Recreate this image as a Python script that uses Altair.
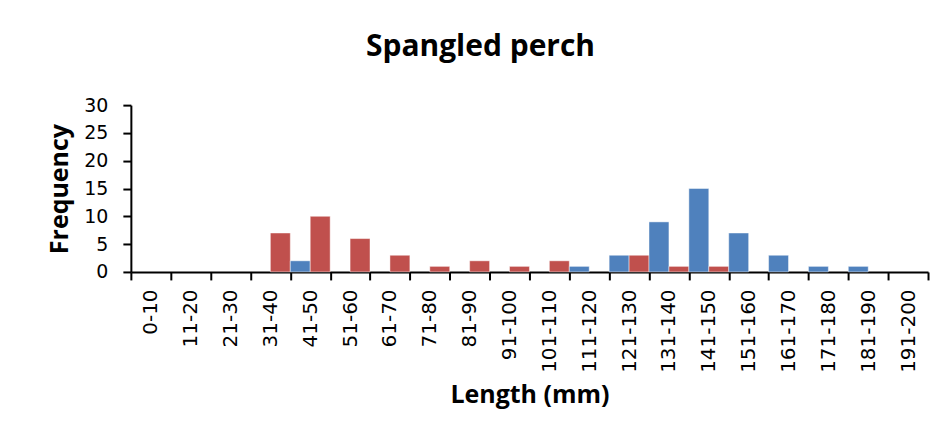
import altair as alt
import pandas as pd

categories = ["0-10", "11-20", "21-30", "31-40", "41-50", "51-60", "61-70", "71-80",
              "81-90", "91-100", "101-110", "111-120", "121-130", "131-140", "141-150",
              "151-160", "161-170", "171-180", "181-190", "191-200"]
blue_counts = [0, 0, 0, 0, 2, 0, 0, 0, 0, 0, 0, 1, 3, 9, 15, 7, 3, 1, 1, 0]
red_counts = [0, 0, 0, 7, 10, 6, 3, 1, 2, 1, 2, 0, 3, 1, 1, 0, 0, 0, 0, 0]
series_names = ["Series 1", "Series 2"]
series_colors = ["#4F81BD", "#C0504D"]
y_ticks = [0, 5, 10, 15, 20, 25, 30]

rows = []
for c, b, r in zip(categories, blue_counts, red_counts):
    rows.append({"length": c, "series": series_names[0], "count": b})
    rows.append({"length": c, "series": series_names[1], "count": r})
df = pd.DataFrame(rows)

W, H = 798, 167

chart = alt.Chart(df).transform_filter("datum.count > 0").mark_bar(
    stroke="white", strokeOpacity=0.45, strokeWidth=1
).encode(
    x=alt.X("length:N", sort=categories,
            scale=alt.Scale(domain=categories, paddingInner=0, paddingOuter=0),
            axis=alt.Axis(title="Length (mm)", labelAngle=-90, tickBand="extent",
                          labelFont="Verdana, DejaVu Sans", labelFontSize=20,
                          labelPadding=9, labelBaseline="middle", labelAlign="right",
                          labelLimit=300, titleX=W / 2, titleY=131)),
    xOffset=alt.XOffset("series:N",
                        scale=alt.Scale(domain=series_names, paddingInner=0, paddingOuter=0)),
    y=alt.Y("count:Q", scale=alt.Scale(domain=[0, 30], nice=False),
            axis=alt.Axis(title="Frequency", values=y_ticks,
                          labelFont="Verdana, DejaVu Sans", labelFontSize=19, labelPadding=15,
                          titleX=-63, titleY=H / 2, titleAngle=270)),
    color=alt.Color("series:N", scale=alt.Scale(domain=series_names, range=series_colors),
                    legend=None),
).properties(
    width=W, height=H,
    background="white",
    title=alt.TitleParams("Spangled perch", font="Open Sans", fontSize=30, fontWeight="bold",
                          color="black", anchor="middle", frame="group", dx=-49,
                          baseline="alphabetic", offset=10),
    autosize=alt.AutoSizeParams(type="none"),
    padding={"left": 123, "top": 97, "right": 10, "bottom": 150},
).configure_view(stroke=None).configure_axis(
    domainColor="black", domainWidth=2, tickColor="black", tickWidth=2, tickSize=8,
    grid=False, labelColor="black",
    titleFont="Open Sans", titleFontSize=25, titleFontWeight="bold", titleColor="black",
    titleBaseline="alphabetic", titleAlign="center",
)

chart.save("out.html", embed_options={"renderer": "svg", "actions": False})
